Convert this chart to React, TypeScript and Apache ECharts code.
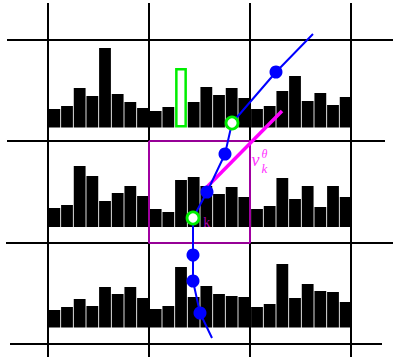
import React, { useEffect, useRef } from "react";
import * as echarts from "echarts";

// 24 histogram bins per row (8 per cell, 3 cells)
const bins = ["1","2","3","4","5","6","7","8","9","10","11","12","13","14","15","16","17","18","19","20","21","22","23","24"];
const row1Heights = [18.5,21.5,39.5,31.5,79.5,33.5,25.5,19.5, 16.5,20.5,59.5,25.5,40.5,32.5,39.5,29.5, 18.5,21.5,36.5,51.5,26.5,34.5,22.5,30.5];
const row2Heights = [19,22,61,51,26,34,41,31, 18,15,47,50,41,33,40,30, 18,21,49,28,41,20,41,30];
const row3Heights = [17.5,20.5,28.5,21.5,40.5,33.5,40.5,29.5, 18.5,21.5,60.5,30.5,41.5,33.5,31.5,30.5, 20.5,23.5,63.5,29.5,43.5,36.5,35.5,25.5];
const highlightedBin = 10; // hollow green bar in row 1

// diagram grid lines (overlay coordinates)
const gridColsX = [48, 149, 250, 351];
const gridColsY = [3, 357];
const gridRowY = [40, 141, 243, 344];
const gridRowStart = [7, 7, 6, 10];
const gridRowEnd = [393, 385, 393, 382];

// blue trajectory
const pathX = [313, 276, 232, 225, 207, 193, 193, 193, 200, 212];
const pathY = [34, 72, 123, 154, 192, 218, 255, 281, 313, 338];
const dotIdx = [1, 3, 4, 6, 7, 8];
const hollowIdx = [2, 5];

// magenta box and direction
const boxX = [149, 250];
const boxY = [141, 243];
const dirX = [205, 282];
const dirY = [189, 111];

export default function App() {
  const ref = useRef<HTMLDivElement>(null);
  useEffect(() => {
    document.body.style.margin = "0";
    const chart = echarts.init(ref.current!, null, { renderer: "svg" });
    const rowGrids = [27.5, 127, 227.5].map((top) => ({ left: 48, width: 304, top, height: 100 }));
    const grids = [...rowGrids, { left: 0, top: 0, width: 393, height: 358 }];
    const xAxes: any[] = [0, 1, 2].map((i) => ({ type: "category", data: bins, gridIndex: i, show: false, boundaryGap: true }));
    xAxes.push({ type: "value", gridIndex: 3, min: 0, max: 393, show: false });
    const yAxes: any[] = [0, 1, 2].map((i) => ({ type: "value", gridIndex: i, min: 0, max: 100, show: false }));
    yAxes.push({ type: "value", gridIndex: 3, min: 0, max: 358, inverse: true, show: false });

    const series: any[] = [];
    const ov = { xAxisIndex: 3, yAxisIndex: 3, silent: true, showSymbol: false, symbol: "none" };
    gridColsX.forEach((x) => {
      series.push({ type: "line", ...ov, z: 1, data: [[x, gridColsY[0]], [x, gridColsY[1]]], lineStyle: { color: "#000", width: 2 } });
    });
    gridRowY.forEach((y, i) => {
      series.push({ type: "line", ...ov, z: 1, data: [[gridRowStart[i], y], [gridRowEnd[i], y]], lineStyle: { color: "#000", width: 2 } });
    });
    [row1Heights, row2Heights, row3Heights].forEach((h, r) => {
      series.push({
        type: "bar",
        xAxisIndex: r,
        yAxisIndex: r,
        barWidth: 11.8,
        z: 2,
        data: h.map((v, i) =>
          r === 0 && i === highlightedBin
            ? { value: v, itemStyle: { color: "#fff", borderColor: "#00ee00", borderWidth: 2.5 } }
            : { value: v, itemStyle: { color: "#000" } }
        ),
      });
    });
    series.push({
      type: "line", ...ov, z: 3,
      data: [[boxX[0], boxY[0]], [boxX[1], boxY[0]], [boxX[1], boxY[1]], [boxX[0], boxY[1]], [boxX[0], boxY[0]]],
      lineStyle: { color: "#c800c8", width: 1.6 },
    });
    series.push({
      type: "line", ...ov, z: 4,
      data: [[dirX[0], dirY[0]], [dirX[1], dirY[1]]],
      lineStyle: { color: "#ff00ff", width: 3.5 },
    });
    series.push({
      type: "line", ...ov, z: 5,
      data: pathX.map((x, i) => [x, pathY[i]]),
      lineStyle: { color: "#0000ff", width: 2 },
    });
    series.push({
      type: "scatter", xAxisIndex: 3, yAxisIndex: 3, z: 6, silent: true,
      symbolSize: 13,
      itemStyle: { color: "#0000ff", opacity: 1 },
      data: dotIdx.map((i) => [pathX[i], pathY[i]]),
    });
    series.push({
      type: "scatter", xAxisIndex: 3, yAxisIndex: 3, z: 7, silent: true,
      symbolSize: 12,
      itemStyle: { color: "#fff", borderColor: "#00ee00", borderWidth: 2.8, opacity: 1 },
      data: hollowIdx.map((i) => [pathX[i], pathY[i]]),
    });

    const txt = (x: number, y: number, text: string, font: string, fill: string) => ({
      type: "text", x, y, z: 100, silent: true,
      style: { text, font, fill, align: "center", verticalAlign: "middle", textAlign: "center", textVerticalAlign: "middle" },
    });

    chart.setOption({
      animation: false,
      backgroundColor: "#fff",
      grid: grids,
      xAxis: xAxes,
      yAxis: yAxes,
      series,
      graphic: [
        txt(255.5, 159.5, "v", "italic 18px 'Liberation Serif'", "#ff33ff"),
        txt(264.5, 153.5, "θ", "italic 12px 'Liberation Serif'", "#ff33ff"),
        txt(264.5, 168, "k", "italic 13px 'Liberation Serif'", "#ff33ff"),
        txt(206.7, 222.3, "k", "14px 'Liberation Serif'", "#b000b0"),
      ],
    });
    return () => chart.dispose();
  }, []);
  return <div ref={ref} style={{ position: "fixed", left: 0, top: 0, width: 393, height: 358, background: "#fff" }} />;
}
